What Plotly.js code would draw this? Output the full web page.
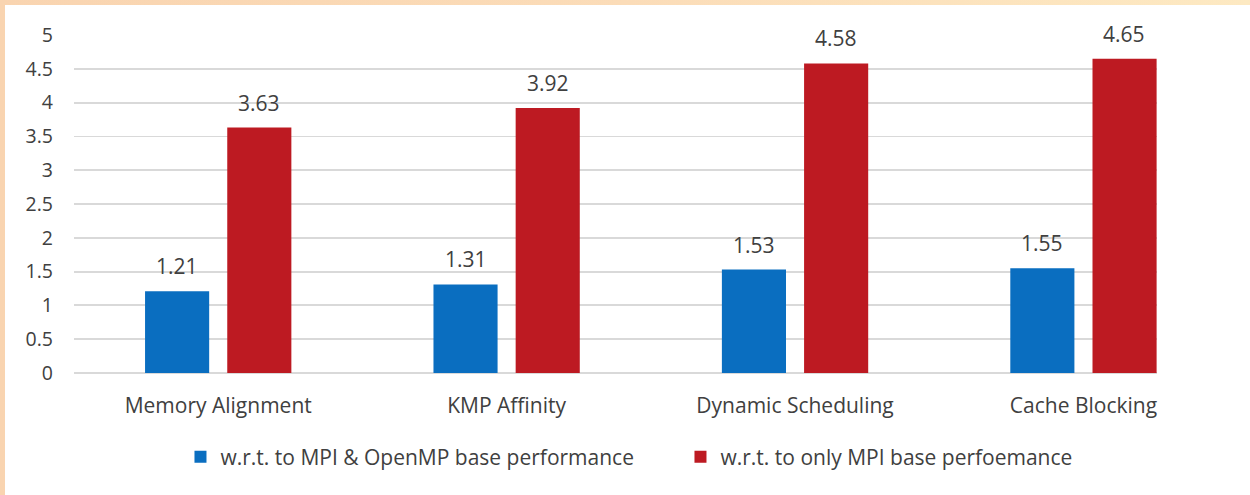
<!DOCTYPE html>
<html>
<head>
<meta charset="utf-8">
<script src="https://cdn.plot.ly/plotly-3.0.1.min.js"></script>
<style>
  html, body { margin: 0; padding: 0; width: 1250px; height: 495px; overflow: hidden;
    background: linear-gradient(90deg, #f9d4b0 0%, #fbdcb8 50%, #fde9c2 100%); }
  #chart { position: absolute; left: 5px; top: 5px; width: 1245px; height: 490px; background: #ffffff; }
</style>
</head>
<body>
<div id="chart"></div>
<script>
const categories = ["Memory Alignment", "KMP Affinity", "Dynamic Scheduling", "Cache Blocking"];
const seriesNames = ["w.r.t. to MPI & OpenMP base performance", "w.r.t. to only MPI base perfoemance"];
const mpiOpenmpValues = [1.21, 1.31, 1.53, 1.55];
const mpiOnlyValues = [3.63, 3.92, 4.58, 4.65];
const yTickValues = [0, 0.5, 1, 1.5, 2, 2.5, 3, 3.5, 4, 4.5, 5];

const baseFont = {family: "'Open Sans', sans-serif", size: 19.5, color: "#404040"};
const bigFont = {family: "'Open Sans', sans-serif", size: 21, color: "#404040"};
const colors = ["#0a6ec0", "#bd1a22"];

const data = [
  {type: "bar", name: seriesNames[0], x: categories, y: mpiOpenmpValues, marker: {color: colors[0]}, hoverinfo: "x+y"},
  {type: "bar", name: seriesNames[1], x: categories, y: mpiOnlyValues, marker: {color: colors[1]}, hoverinfo: "x+y"}
];

// value labels above the bars (placed at the data value via the axes, nudged to the bar centres)
const annotations = [];
[mpiOpenmpValues, mpiOnlyValues].forEach((vals, s) => {
  vals.forEach((v, i) => {
    annotations.push({
      x: categories[i], y: v, xref: "x", yref: "y",
      text: v.toFixed(2), showarrow: false,
      xanchor: "center", yanchor: "middle",
      xshift: s === 0 ? -41 : 41, yshift: 25,
      font: bigFont
    });
  });
});

const layout = {
  width: 1245,
  height: 490,
  paper_bgcolor: "#ffffff",
  plot_bgcolor: "#ffffff",
  margin: {l: 69, r: 93, t: 30, b: 122},
  barmode: "group",
  bargap: 0.43,
  bargroupgap: 0.22,
  font: baseFont,
  annotations: annotations,
  xaxis: {
    type: "category",
    range: [-0.5, 3.255],
    showgrid: false,
    zeroline: false,
    showline: false,
    ticks: "",
    ticklabelstandoff: 18,
    tickfont: bigFont,
    automargin: false
  },
  yaxis: {
    range: [0, 5],
    tickvals: yTickValues,
    ticktext: yTickValues.map(String),
    showgrid: true,
    gridcolor: "#d9d9d9",
    gridwidth: 1.8,
    zeroline: true,
    zerolinecolor: "#d9d9d9",
    zerolinewidth: 1.8,
    showline: false,
    ticks: "",
    ticklabelstandoff: 20,
    tickfont: baseFont,
    automargin: false
  },
  showlegend: true,
  legend: {
    orientation: "h",
    x: 0.560,
    xanchor: "center",
    y: -0.2485,
    yanchor: "middle",
    font: bigFont,
    entrywidth: 455,
    entrywidthmode: "pixels",
    itemwidth: 30,
    bgcolor: "rgba(0,0,0,0)"
  }
};

Plotly.newPlot("chart", data, layout, {displayModeBar: false, staticPlot: true});
</script>
</body>
</html>
